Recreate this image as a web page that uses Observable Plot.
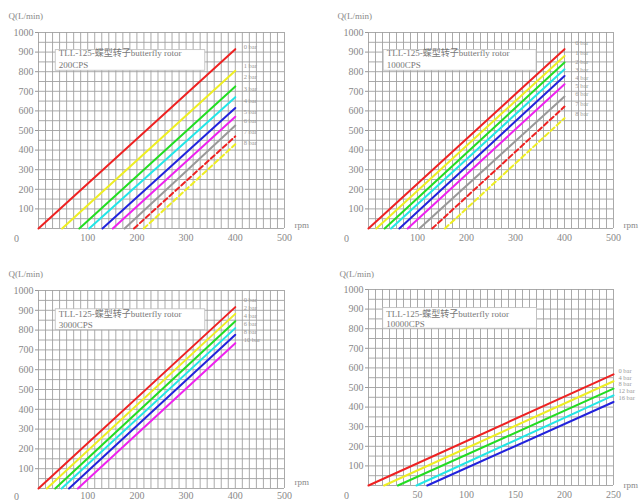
<!DOCTYPE html>
<html><head><meta charset="utf-8">
<script src="https://cdn.jsdelivr.net/npm/d3@7"></script>
<script src="https://cdn.jsdelivr.net/npm/@observablehq/plot@0.6"></script>
<style>
body{margin:0;background:#fff;}
#wrap{display:grid;grid-template-columns:320px 320px;width:640px;}
#wrap svg{display:block;}
</style></head><body><div id="wrap"></div>
<script>
// shared styling of the series (in order)
const seriesColors = ["#ee2222","#eeee22","#22dd22","#22e6e6","#2222dd","#ee22ee","#999999","#ee2222","#eeee22"];
const seriesDash = [null,null,null,null,null,null,null,"5,3","5,3"];
const modelText = "TLL-125-蝶型转子butterfly rotor";
const yTicks = [100,200,300,400,500,600,700,800,900,1000];

// Panel 1: 200CPS
const p1Title = "200CPS";
const p1Labels = ["0 bar","1 bar","2 bar","3 bar","4 bar","5 bar","6 bar","7 bar","8 bar"];
const p1StartRpm = [0,48,83,103,130,151,175,194,214];
const p1EndQ = [915,805,725,670,615,570,525,470,430];
const p1LabelQ = [924,832,772,711,650,594,548,492,437];
const p1XTicks = [100,200,300,400,500];

// Panel 2: 1000CPS
const p2Title = "1000CPS";
const p2Labels = ["0 bar","1 bar","2 bar","3 bar","4 bar","5 bar","6 bar","7 bar","8 bar"];
const p2StartRpm = [0,16,33,46,63,80,104,130,156];
const p2EndQ = [915,880,847,812,778,736,673,622,563];
const p2LabelQ = [945,895,850,810,770,730,685,635,585];
const p2XTicks = [100,200,300,400,500];

// Panel 3: 3000CPS
const p3Title = "3000CPS";
const p3Labels = ["0 bar","2 bar","4 bar","6 bar","8 bar","10 bar"];
const p3StartRpm = [0,17,34,47,62,80];
const p3EndQ = [916,882,845,810,776,734];
const p3LabelQ = [950,910,870,830,790,750];
const p3XTicks = [100,200,300,400,500];

// Panel 4: 10000CPS
const p4Title = "10000CPS";
const p4Labels = ["0 bar","4 bar","8 bar","12 bar","16 bar"];
const p4StartRpm = [0,16,30,49,60];
const p4EndQ = [567,532,494,460,426];
const p4LabelQ = [584,550,516,482,448];
const p4XTicks = [50,100,150,200,250];

const panels = [
  {title:p1Title,labels:p1Labels,start:p1StartRpm,endQ:p1EndQ,labelQ:p1LabelQ,xTicks:p1XTicks,xMax:500,endRpm:400,labelX:417,
   box:[35,339,805,910], textY:[893,832], m:{top:32,right:36,bottom:22,left:38}, h:250, qdx:-30, qdy:-20, rpmDy:-1, xPad:5, zDy:10},
  {title:p2Title,labels:p2Labels,start:p2StartRpm,endQ:p2EndQ,labelQ:p2LabelQ,xTicks:p2XTicks,xMax:500,endRpm:400,labelX:422,
   box:[31,343,805,910], textY:[893,832], m:{top:32,right:27,bottom:22,left:48}, h:250, qdx:-31, qdy:-20, rpmDy:-1, xPad:5, zDy:10},
  {title:p3Title,labels:p3Labels,start:p3StartRpm,endQ:p3EndQ,labelQ:p3LabelQ,xTicks:p3XTicks,xMax:500,endRpm:400,labelX:417,
   box:[35,339,800,905], textY:[882,823], m:{top:40,right:36,bottom:14,left:38}, h:252, qdx:-30, qdy:-20, rpmDy:-4, xPad:3, zDy:8},
  {title:p4Title,labels:p4Labels,start:p4StartRpm,endQ:p4EndQ,labelQ:p4LabelQ,xTicks:p4XTicks,xMax:250,endRpm:250,labelX:255,
   box:[15,172,800,905], textY:[876,821], m:{top:39,right:27,bottom:17,left:48}, h:252, qdx:-29, qdy:-19, rpmDy:2, xPad:5, zDy:10}
];

const serif = "'Liberation Serif','DejaVu Serif','Noto Sans CJK SC',serif";
const wrap = document.getElementById("wrap");

for (const p of panels) {
  const lines = [];
  p.start.forEach((s,i) => {
    lines.push({k:i, x:s, y:0});
    lines.push({k:i, x:p.endRpm, y:p.endQ[i]});
  });
  const vGrid = d3.range(0,36).map(i => i*p.xMax/35);
  const hGrid = d3.range(0,1001,50);
  const labs = p.labels.map((t,i)=>({t, y:p.labelQ[i]}));
  const marks = [
    Plot.ruleX(vGrid, {stroke:"#a0a0a0", strokeWidth:0.9}),
    Plot.ruleY(hGrid, {stroke:"#a0a0a0", strokeWidth:0.9}),
    Plot.rect([p.box], {x1:d=>d[0], x2:d=>d[1], y1:d=>d[2], y2:d=>d[3], fill:"white", stroke:"#bbb", strokeWidth:0.8}),
    Plot.text([modelText], {x:p.box[0], y:p.textY[0], text:d=>d, textAnchor:"start", dx:3, fontSize:9, fill:"#777", fontFamily:serif}),
    Plot.text([p.title], {x:p.box[0], y:p.textY[1], text:d=>d, textAnchor:"start", dx:3, fontSize:9, fill:"#777", fontFamily:serif}),
  ];
  p.start.forEach((s,i) => {
    marks.push(Plot.line(lines.filter(d=>d.k===i), {x:"x", y:"y", stroke:seriesColors[i], strokeWidth:2, strokeDasharray:seriesDash[i]||undefined}));
  });
  marks.push(
    Plot.text(labs, {x:p.labelX, y:"y", text:"t", textAnchor:"start", fontSize:6.5, fill:"#999", fontFamily:serif}),
    Plot.text(["Q(L/min)"], {frameAnchor:"top-left", text:d=>d, dx:p.qdx, dy:p.qdy, textAnchor:"start", fontSize:9, fill:"#888", fontFamily:serif}),
    Plot.text(["rpm"], {frameAnchor:"bottom-right", text:d=>d, dx:10, dy:p.rpmDy, textAnchor:"start", fontSize:9, fill:"#888", fontFamily:serif}),
    Plot.text(["0"], {x:0, y:0, text:d=>d, dx:-22, dy:p.zDy, fontSize:10, fill:"#888", fontFamily:serif}),
    Plot.axisY(yTicks, {tickSize:3, tickPadding:2, fontSize:10, fill:"#888", stroke:"#999", fontFamily:serif, label:null, tickFormat:d=>String(d)}),
    Plot.axisX(p.xTicks, {tickSize:0, tickPadding:p.xPad, fontSize:10, fill:"#888", fontFamily:serif, label:null, tickFormat:d=>String(d)})
  );
  const chart = Plot.plot({
    width:320, height:p.h,
    marginTop:p.m.top, marginRight:p.m.right, marginBottom:p.m.bottom, marginLeft:p.m.left,
    x:{domain:[0,p.xMax]}, y:{domain:[0,1000]},
    style:{fontFamily:serif, background:"white", overflow:"visible"},
    marks
  });
  wrap.appendChild(chart);
}
</script></body></html>
